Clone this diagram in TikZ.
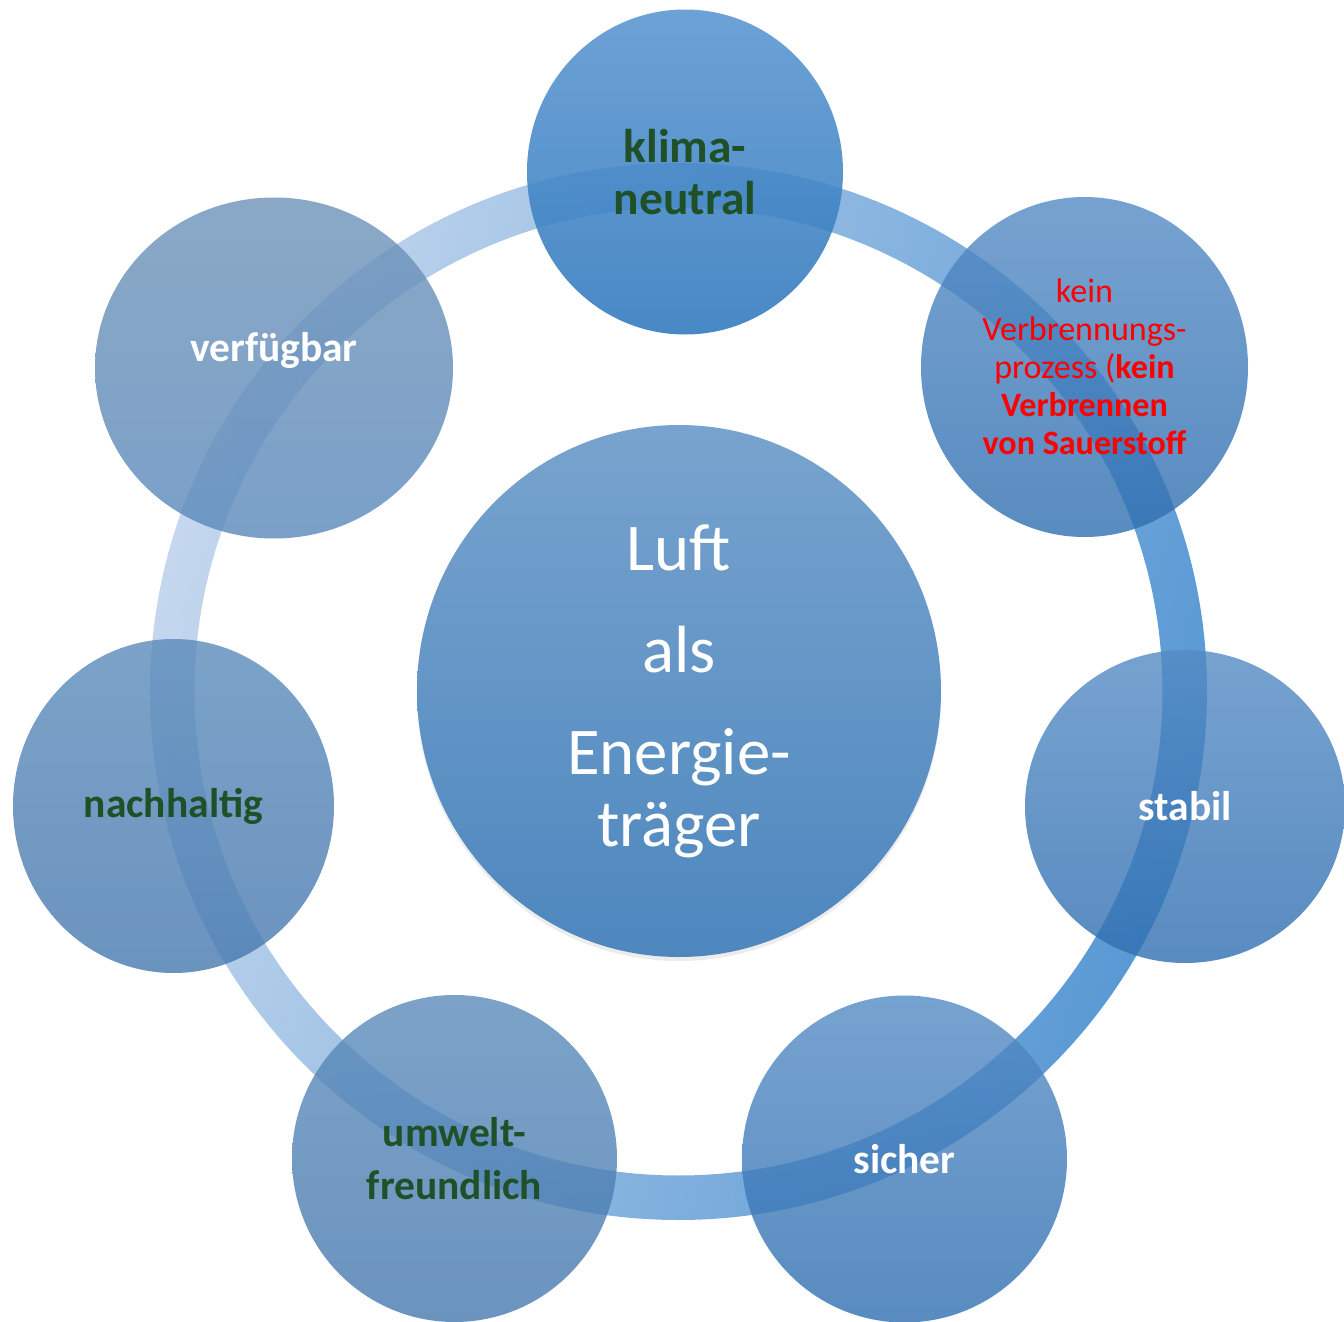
\documentclass[tikz,border=0pt]{standalone}
\usepackage{fontspec}
\setmainfont{Carlito}
\usepackage{xcolor}
\usetikzlibrary{shapes, shadows, positioning}
\definecolor{ringhell}{HTML}{C4D7EE}
\definecolor{ringmitte}{HTML}{90B4E0}
\definecolor{ringdunkel}{HTML}{5898D4}
\definecolor{klimaoben}{HTML}{5895D0}
\definecolor{klimaunten}{HTML}{2F78BD}
\definecolor{blauoben}{HTML}{548BC4}
\definecolor{blauunten}{HTML}{2F6EB0}
\definecolor{grauoben}{HTML}{5B8BBA}
\definecolor{grauunten}{HTML}{4578AE}
\definecolor{hellgrauoben}{HTML}{6D92B8}
\definecolor{hellgrauunten}{HTML}{5988BA}
\definecolor{mitteoben}{HTML}{78A3CE}
\definecolor{mitteunten}{HTML}{4D87BE}
\definecolor{dunkelgruen}{HTML}{1F5027}
\tikzset{
	% aeussere Kreise
	kreis/.style={
		ellipse,
		inner sep=0pt,
		fill opacity=0.8,
		text opacity=1,
		align=center
	}, %
	klimakreis/.style={kreis, fill opacity=0.88, top color=klimaoben, bottom color=klimaunten},
	blaukreis/.style={kreis, top color=blauoben, bottom color=blauunten},
	graukreis/.style={kreis, top color=grauoben, bottom color=grauunten},
	% Beschriftung
	gruentext/.style={text=dunkelgruen, font=\bfseries\fontsize{11.8pt}{15pt}\selectfont},
	weisstext/.style={text=white, font=\bfseries\fontsize{11.8pt}{15pt}\selectfont}
}

\begin{document}
\begin{tikzpicture}
	\useasboundingbox (0,0) rectangle (13.44,-13.22);

	% Ring
	\coordinate (M) at (6.785,-6.915);
	\shade[even odd rule, left color=ringhell, middle color=ringmitte, right color=ringdunkel, shading angle=73]
		(M) circle (5.285) (M) circle (4.84);

	% Eigenschaften
	\node[klimakreis, gruentext, font=\bfseries\fontsize{13.5pt}{15pt}\selectfont, minimum width=3.16cm, minimum height=3.25cm] (klima) at (6.85,-1.72) {klima-\\neutral};
	\node[blaukreis, text=red, font=\fontsize{9.7pt}{10.8pt}\selectfont, minimum width=3.27cm, minimum height=3.40cm] (kein) at (10.845,-3.67)
		{kein\\Verbrennungs-\\prozess (\textbf{kein}\\\textbf{Verbrennen}\\\textbf{von Sauerstoff}};
	\node[blaukreis, weisstext, minimum width=3.20cm, minimum height=3.13cm] (stabil) at (11.85,-8.065) {stabil};
	\node[blaukreis, weisstext, minimum width=3.25cm, minimum height=3.27cm] (sicher) at (9.045,-11.59) {sicher};
	\node[graukreis, gruentext, minimum width=3.25cm, minimum height=3.27cm] (umwelt) at (4.545,-11.585) {umwelt-\\freundlich};
	\node[graukreis, gruentext, minimum width=3.21cm, minimum height=3.34cm] (nachhaltig) at (1.735,-8.06) {nachhaltig};
	\node[kreis, top color=hellgrauoben, bottom color=hellgrauunten, minimum width=3.58cm, minimum height=3.41cm] (verfuegbar) at (2.74,-3.68) {};
	\node[weisstext] (verfuegbartext) at ([yshift=0.18cm]verfuegbar.center) {verfügbar};

	% Mitte
	\node[ellipse, top color=mitteoben, bottom color=mitteunten, minimum width=5.24cm, minimum height=5.32cm, inner sep=0pt,
		drop shadow={shadow xshift=0cm, shadow yshift=-0.04cm, opacity=0.15},
		text=white, align=center, font=\fontsize{19pt}{20.5pt}\selectfont] (luft) at (6.79,-6.91)
		{Luft\\[0.3cm]als\\[0.3cm]Energie-\\träger};
\end{tikzpicture}
\end{document}
